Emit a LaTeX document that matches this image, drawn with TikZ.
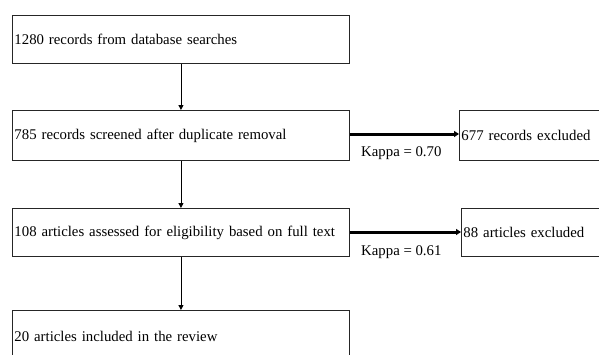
\documentclass[tikz,border=0pt]{standalone}
\usepackage{fontspec}
\setmainfont{Liberation Serif}
\usetikzlibrary{arrows.meta}
\begin{document}
\begin{tikzpicture}[x=1pt, y=-1pt,
		stagebox/.style={draw=black!85, line width=0.9pt, anchor=north west, inner xsep=2pt, inner ysep=0pt,
			text width=333pt, align=left, minimum height=48pt},
		exclbox/.style={stagebox, text width=160pt},
		flow/.style={-{Triangle[length=5pt, width=5pt]}, line width=0.8pt},
		cut/.style={-{Triangle[length=5pt, width=6pt]}, line width=3pt}]
			\fontsize{14.8}{18}\selectfont
			\useasboundingbox (0, 0) rectangle (599, 354);

			\node[stagebox] (search) at (12, 15) {1280 records from database searches};
			\node[stagebox, minimum height=50pt] (screen) at (12, 110) {785 records screened after duplicate removal};
			\node[stagebox] (full) at (12, 208) {108 articles assessed for eligibility based on full text};
			\node[stagebox, minimum height=52pt] (incl) at (12, 310) {20 articles included in the review};

			\node[exclbox, minimum height=50pt] (excl1) at (459, 110) {677 records excluded};
			\node[exclbox] (excl2) at (461, 208) {88 articles excluded};

			% main flow
			\draw[flow] (search) -- (screen);
			\draw[flow] (screen) -- (full);
			\draw[flow] (full) -- (incl);

			% exclusions
			\draw[cut] (screen.east |- 0, 134) -- (excl1.west |- 0, 134);
			\draw[cut] (full.east |- 0, 232) -- (excl2.west |- 0, 232);
			\node[anchor=west, inner sep=0pt] (kappa1) at (361, 153) {Kappa = 0.70};
			\node[anchor=west, inner sep=0pt] (kappa2) at (361, 252) {Kappa = 0.61};
		\end{tikzpicture}
\end{document}
